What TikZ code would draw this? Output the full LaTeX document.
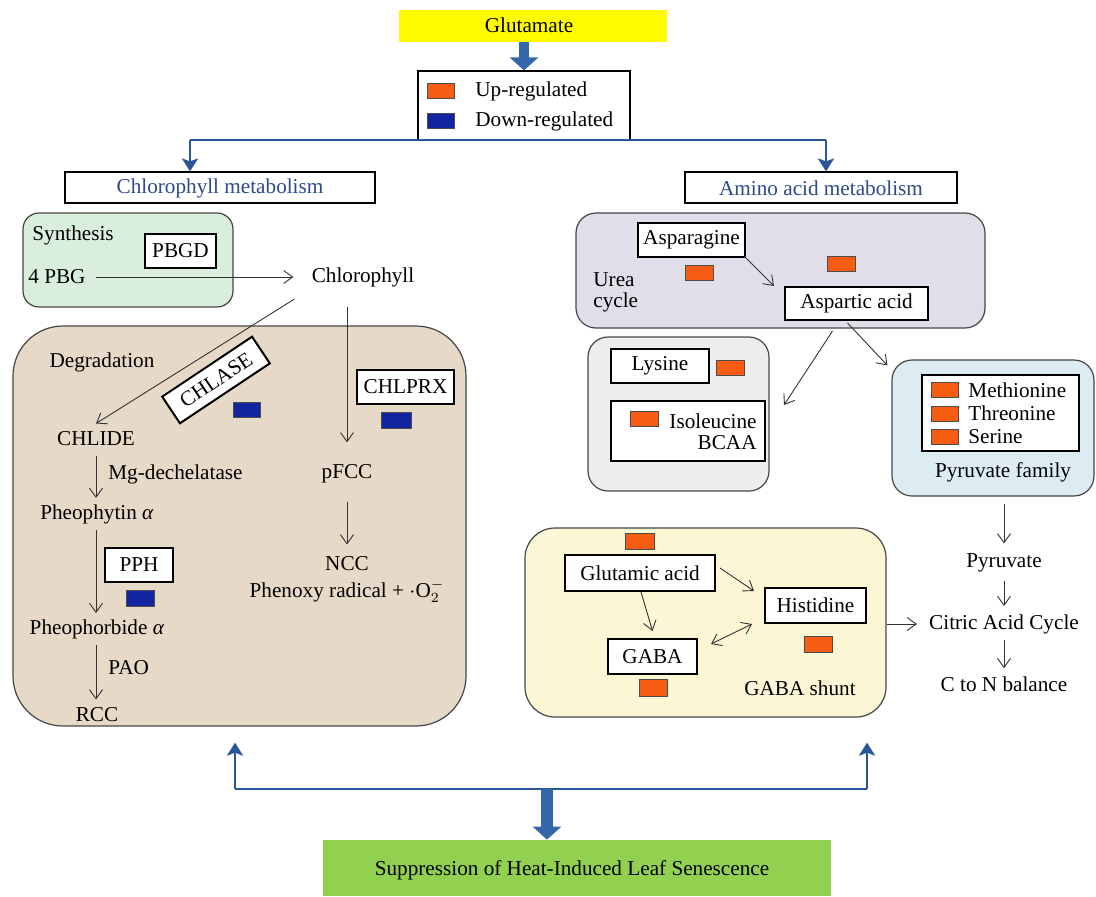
\documentclass[tikz,border=0pt]{standalone}
\usepackage{fontspec}
\setmainfont{Liberation Serif}
\usetikzlibrary{arrows.meta,positioning,calc}
\definecolor{uporange}{RGB}{246,92,20}
\definecolor{downblue}{RGB}{18,36,160}
\definecolor{bline}{RGB}{42,86,150}
\definecolor{barrow}{RGB}{52,102,170}
\definecolor{titleblue}{RGB}{44,74,140}
\definecolor{synfill}{RGB}{218,238,222}
\definecolor{degfill}{RGB}{230,217,199}
\definecolor{ureafill}{RGB}{226,222,233}
\definecolor{lysfill}{RGB}{238,238,238}
\definecolor{pyrfill}{RGB}{221,236,242}
\definecolor{gabafill}{RGB}{251,246,212}
\definecolor{gluyellow}{RGB}{255,252,0}
\definecolor{sengreen}{RGB}{146,208,80}
\definecolor{edgegray}{RGB}{70,70,70}
\tikzset{
  every node/.style={font=\fontsize{10.6}{12.6}\selectfont, inner sep=0pt},
  wbox/.style={draw=black, line width=1pt, fill=white},
  tbox/.style={draw=black, line width=0.6pt, fill=white},
  upsq/.style={draw=black!70, line width=0.4pt, fill=uporange, minimum width=13.5pt, minimum height=7.6pt},
  dnsq/.style={draw=black!70, line width=0.4pt, fill=downblue, minimum width=13.5pt, minimum height=7.6pt},
  region/.style={draw=edgegray, line width=0.6pt},
  barb/.tip={Straight Barb[length=4.5pt,width=6.5pt]},
  thinarr/.style={draw=black!80, line width=0.45pt, -barb},
  bline/.style={draw=bline, line width=1.3pt},
  barr/.style={draw=bline, line width=1.3pt, -{Stealth[length=6.5pt,width=8pt,inset=1.5pt]}},
  thickarr/.style={draw=barrow, line width=5pt, -{Triangle[length=6.5pt,width=14pt]}},
}
\begin{document}
\begin{tikzpicture}[x=0.5pt,y=-0.5pt]
\useasboundingbox (0,0) rectangle (1096,896);
% top
\node[fill=gluyellow, minimum width=134pt, minimum height=16pt] (glu) at (533,26) {};
\node at (529,25) {Glutamate};
\node[tbox, minimum width=106pt, minimum height=34.5pt] (legend) at (524,105.5) {};
\node[upsq] (lu) at (440.5,90.5) {};
\node[anchor=west] (lut) at (475,91) {Up-regulated};
\node[dnsq] (ld) at (440.5,120.5) {};
\node[anchor=west] (ldt) at (475,121) {Down-regulated};
\draw[thickarr] (legend.north |- glu.south) -- (legend.north);
\node[tbox, minimum width=155pt, minimum height=15.5pt] (chl) at (220,187.5) {};
\node[text=titleblue] at (220,188) {Chlorophyll metabolism};
\node[tbox, minimum width=136pt, minimum height=15.5pt] (ami) at (821,187.5) {};
\node[text=titleblue] at (821,188) {Amino acid metabolism};
\coordinate (hl) at (190,140);
\coordinate (hr) at (826,140);
\draw[bline] (hl) -- (hr);
\draw[barr] (hl) -- (hl |- chl.north);
\draw[barr] (hr) -- (hr |- ami.north);
% synthesis
\node[region, fill=synfill, rounded corners=8pt, minimum width=105pt, minimum height=47pt] (syn) at (128,260) {};
\node[anchor=west] at (32,235) {Synthesis};
\node[wbox, minimum width=35.5pt, minimum height=17pt] (pbgd) at (180.5,251) {PBGD};
\node[anchor=west] (pbg) at (28,277) {4 PBG};
\node (chlo) at (363,277) {Chlorophyll};
\draw[thinarr] ([xshift=5pt]pbg.east) -- ([xshift=-9pt]chlo.west);
% degradation
\node[region, fill=degfill, rounded corners=25pt, minimum width=226.5pt, minimum height=200pt] (deg) at (239.5,526) {};
\node at (102,362) {Degradation};
\node (chlide) at (96,439) {CHLIDE};
\draw[thinarr] ([shift={(-8.5pt,-6pt)}]chlo.south west) -- ([yshift=4pt]chlide.north);
\node[wbox, rotate=33.7, minimum width=54pt, minimum height=16pt] (chlase) at (216,380) {CHLASE};
\node[dnsq] (d1) at (246.5,409.5) {};
\node[wbox, minimum width=48.5pt, minimum height=17pt] (chlprx) at (405.5,387) {CHLPRX};
\node[dnsq, minimum width=15pt, minimum height=8pt] (d2) at (396,420) {};
\node (pfcc) at (347,474) {pFCC};
\draw[thinarr] ([yshift=-10pt]chlo.south -| pfcc.north) -- ([yshift=11pt]pfcc.north);
\node[anchor=west] at (108,474) {Mg-dechelatase};
\node (pheo) at (97,514) {Pheophytin \textit{α}};
\draw[thinarr] ([yshift=-4.5pt]chlide.south -| 96,0) -- ([yshift=3pt]pheo.north -| 96,0);
\node[wbox, minimum width=34pt, minimum height=17pt] (pph) at (139,565) {PPH};
\node[dnsq, minimum width=14pt, minimum height=8pt] (d3) at (140,598) {};
\node (pheob) at (97,629) {Pheophorbide \textit{α}};
\draw[thinarr] ([yshift=-3pt]pheo.south -| 96,0) -- ([yshift=3pt]pheob.north -| 96,0);
\node[anchor=west] at (108,668) {PAO};
\node (rcc) at (97,715) {RCC};
\draw[thinarr] ([yshift=-3pt]pheob.south -| 96,0) -- ([yshift=4pt]rcc.north -| 96,0);
\node (ncc) at (347,564) {NCC};
\draw[thinarr] ([yshift=-9pt]pfcc.south) -- ([yshift=6pt]ncc.north);
\node at (347,591) {Phenoxy radical + $\cdot$O$^{-}_{2}$};
% urea cycle
\node[region, fill=ureafill, rounded corners=10pt, minimum width=204.5pt, minimum height=57.5pt] (urea) at (780.5,270.5) {};
\node[wbox, minimum width=53.5pt, minimum height=17pt] (asn) at (691.5,240) {Asparagine};
\node[upsq, minimum width=14pt] (o1) at (699,272.5) {};
\node[anchor=west] at (593,280) {Urea};
\node[anchor=west] at (593,302) {cycle};
\node[wbox, minimum width=71.5pt, minimum height=16.5pt] (asp) at (856.5,303.5) {Aspartic acid};
\node[upsq, minimum width=14pt] (o2) at (841,263.5) {};
\draw[thinarr] (asn.south east) -- ([xshift=-5pt]asp.north west);
% lysine group
\node[region, fill=lysfill, rounded corners=10pt, minimum width=90.5pt, minimum height=77pt] (lysg) at (678.5,414) {};
\node[wbox, minimum width=49pt, minimum height=17pt] (lys) at (660,366) {Lysine};
\node[upsq, minimum width=14pt] (o3) at (730,368) {};
\node[wbox, minimum width=77pt, minimum height=30pt] (iso) at (688,431) {};
\node[upsq, minimum width=14pt] (o4) at (644,419) {};
\node[anchor=east] at (757,421) {Isoleucine};
\node[anchor=east] at (757,443) {BCAA};
\coordinate (lysin) at (784,405);
\draw[thinarr] ([shift={(-12pt,-5pt)}]asp.south) -- (lysin);
% pyruvate family
\node[region, fill=pyrfill, rounded corners=10pt, minimum width=101pt, minimum height=68pt] (pyr) at (993,428) {};
\node[wbox, minimum width=78.5pt, minimum height=38pt] (pyrin) at (1000.5,413) {};
\node[upsq] (o5) at (944.5,390) {};
\node[upsq] (o6) at (944.5,413.5) {};
\node[upsq] (o7) at (944.5,437) {};
\node[anchor=west] at (968,390) {Methionine};
\node[anchor=west] at (968,413) {Threonine};
\node[anchor=west] at (968,437) {Serine};
\node (pyrf) at (1003,472) {Pyruvate family};
\draw[thinarr] ([shift={(-4.5pt,-1pt)}]asp.south) -- ([shift={(-2pt,-3pt)}]pyr.north west);
\node (pyv) at (1004,563) {Pyruvate};
\draw[thinarr] ([yshift=-3.5pt]pyr.south -| pyv) -- ([yshift=5pt]pyv.north);
\node (cit) at (1004,624) {Citric Acid Cycle};
\draw[thinarr] ([yshift=-4pt]pyv.south) -- ([yshift=4pt]cit.north);
\node (cton) at (1004,684) {C to N balance};
\draw[thinarr] ([yshift=-3pt]cit.south) -- ([yshift=4pt]cton.north);
% GABA shunt
\node[region, fill=gabafill, rounded corners=15pt, minimum width=180.5pt, minimum height=94.5pt] (gbox) at (705.5,622.5) {};
\node[upsq, minimum width=14.5pt, minimum height=8pt] (o8) at (639.5,541) {};
\node[wbox, minimum width=75pt, minimum height=18pt] (glut) at (640,573) {Glutamic acid};
\node[wbox, minimum width=50.5pt, minimum height=17.5pt] (his) at (815.5,605.5) {Histidine};
\node[wbox, minimum width=44.5pt, minimum height=17.5pt] (gaba) at (652.5,656.5) {GABA};
\node[upsq, minimum width=14pt, minimum height=8.5pt] (o9) at (653,687.5) {};
\node[upsq, minimum width=14pt, minimum height=8pt] (o10) at (818,644) {};
\node at (800,688) {GABA shunt};
\draw[thinarr] ([shift={(2pt,2.5pt)}]glut.east) -- ([shift={(-5pt,-2pt)}]his.north west);
\draw[thinarr] ([xshift=0.5pt]glut.south) -- ([yshift=3.5pt]gaba.north);
\draw[draw=black!80, line width=0.45pt, barb-barb] ([shift={(6.5pt,-3pt)}]gaba.north east) -- ([xshift=-6pt]his.south west);
\draw[thinarr] (gbox.east |- cit) -- ([xshift=-6pt]cit.west);
% bottom
\node[fill=sengreen, minimum width=254pt, minimum height=28pt] (sen) at (577,868) {};
\node at (572,870) {Suppression of Heat-Induced Leaf Senescence};
\coordinate (bl) at (235,789);
\coordinate (br) at (867,789);
\coordinate (bm) at (547,789);
\draw[bline] (bl) -- (br);
\draw[barr] (bl) -- ([yshift=-8pt]deg.south -| bl);
\draw[barr] (br) -- ([yshift=-12.5pt]gbox.south -| br);
\draw[thickarr, line width=6pt] (bm) -- (bm |- sen.north);
\end{tikzpicture}
\end{document}
